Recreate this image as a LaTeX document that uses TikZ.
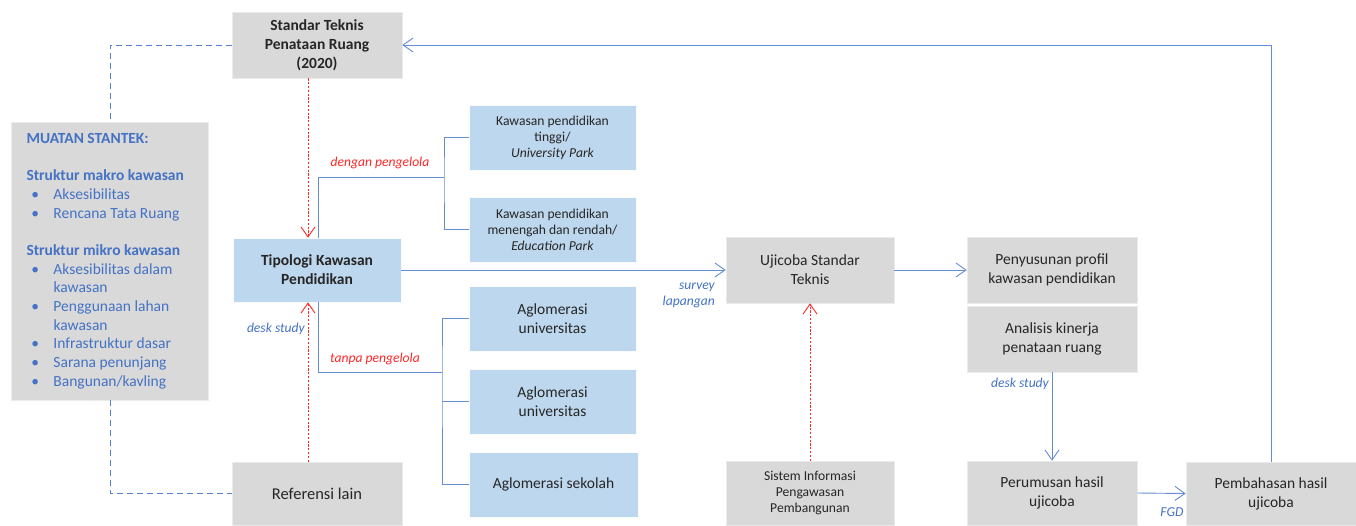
\documentclass[tikz,border=0pt]{standalone}
\usepackage{fontspec}
\setmainfont{Carlito}
\usetikzlibrary{arrows.meta}
\definecolor{boxgray}{RGB}{217,217,217}
\definecolor{boxblue}{RGB}{189,215,238}
\definecolor{lineblue}{RGB}{100,140,215}
\definecolor{dashblue}{RGB}{85,128,212}
\definecolor{txtblue}{RGB}{68,114,196}
\definecolor{redline}{RGB}{255,40,40}
\newcommand{\bigtxt}{\fontsize{15.5}{19}\selectfont}
\newcommand{\smalltxt}{\fontsize{13.6}{16}\selectfont}
\newcommand{\bul}{\makebox[27pt][l]{\hspace{5pt}•}}
\begin{document}
\begin{tikzpicture}[x=1pt,y=-1pt,
  graybox/.style={fill=boxgray,draw=white!92!black,line width=0.6pt,inner sep=2pt,align=center,font=\bigtxt,text=black!85},
  bluebox/.style={fill=boxblue,draw=white!90!boxblue,line width=0.6pt,inner sep=2pt,align=center,font=\bigtxt,text=black!85},
  conn/.style={draw=lineblue,line width=0.9pt},
  arr/.style={-{Straight Barb[length=10pt,width=14pt,line width=0.9pt]}},
  reddot/.style={draw=redline,line width=0.9pt,dash pattern=on 2.2pt off 1.6pt},
  redarr/.style={-{Straight Barb[length=10pt,width=14pt,line width=0.9pt,sep=0pt]}},
  bluedash/.style={draw=dashblue,line width=1pt,dash pattern=on 6pt off 4pt},
  redlab/.style={font=\smalltxt\itshape,text=redline,inner sep=0pt},
  bluelab/.style={font=\smalltxt\itshape,text=txtblue,inner sep=0pt,align=right},
]
\useasboundingbox (0,0) rectangle (1356,525);
\fill[white] (0,0) rectangle (1356,525);

% nodes
\node[graybox,minimum width=170pt,minimum height=66pt,font=\bigtxt\bfseries] (std) at (317,45) {Standar Teknis\\Penataan Ruang\\(2020)};
\node[graybox,minimum width=197pt,minimum height=278pt,text width=167pt,align=flush left,text=txtblue,inner sep=0pt,font=\fontsize{15.5}{18.7}\selectfont] (m) at (110,261)
 {\textbf{MUATAN STANTEK:}\\
  \mbox{}\\
  \textbf{Struktur makro kawasan}\\
  \bul Aksesibilitas\\
  \bul Rencana Tata Ruang\\
  \mbox{}\\
  \textbf{Struktur mikro kawasan}\\
  \bul Aksesibilitas dalam\\
  \hspace*{27pt}kawasan\\
  \bul Penggunaan lahan\\
  \hspace*{27pt}kawasan\\
  \bul Infrastruktur dasar\\
  \bul Sarana penunjang\\
  \bul Bangunan/kavling};
\node[bluebox,minimum width=168pt,minimum height=64pt,font=\bigtxt\bfseries] (tip) at (317,270) {Tipologi Kawasan\\Pendidikan};
\node[graybox,minimum width=170pt,minimum height=63pt,font=\fontsize{16.5}{20}\selectfont] (ref) at (317,493.5) {Referensi lain};

\node[bluebox,minimum width=167pt,minimum height=65pt,font=\smalltxt] (k1) at (552.5,137.5) {Kawasan pendidikan\\tinggi/\\\textit{University Park}};
\node[bluebox,minimum width=167pt,minimum height=65pt,font=\smalltxt] (k2) at (552.5,229.5) {Kawasan pendidikan\\menengah dan rendah/\\\textit{Education Park}};
\node[bluebox,minimum width=167pt,minimum height=65pt] (a1) at (552.5,318.5) {Aglomerasi\\universitas};
\node[bluebox,minimum width=167pt,minimum height=65pt] (a2) at (552.5,401.5) {Aglomerasi\\universitas};
\node[bluebox,minimum width=169pt,minimum height=65pt] (a3) at (553.5,484.5) {Aglomerasi sekolah};

\node[graybox,minimum width=168pt,minimum height=66pt] (uji) at (810,270) {Ujicoba Standar\\Teknis};
\node[graybox,minimum width=168pt,minimum height=64pt,font=\smalltxt] (sis) at (810,493) {Sistem Informasi\\Pengawasan\\Pembangunan};
\node[graybox,minimum width=170pt,minimum height=66pt] (pen) at (1052,270) {Penyusunan profil\\kawasan pendidikan};
\node[graybox,minimum width=170pt,minimum height=66pt] (ana) at (1052,339) {Analisis kinerja\\penataan ruang};
\node[graybox,minimum width=170pt,minimum height=64pt] (per) at (1052,493) {Perumusan hasil\\ujicoba};
\node[graybox,minimum width=170pt,minimum height=63pt] (pem) at (1271,493.5) {Pembahasan hasil\\ujicoba};

% coordinates for brackets
\coordinate (b1) at (444,177);
\coordinate (b2) at (442,372);

% dashed links of the content box
\draw[bluedash] (std.west) -| (m.north);
\draw[bluedash] (m.south) |- (ref.west);

% red dotted arrows
\draw[reddot,redarr] ([xshift=-9pt]std.south) -- ([xshift=-9pt]tip.north);
\draw[reddot,redarr] ([xshift=-9pt]ref.north) -- ([xshift=-9pt]tip.south);
\draw[reddot,redarr] (sis.north) -- (uji.south);

% brackets
\draw[conn] ([xshift=1pt]tip.north) |- (b1);
\draw[conn] (k1.west) -| (b1) |- (k2.west);
\draw[conn] ([xshift=1pt]tip.south) |- (b2);
\draw[conn] (a1.west) -| (b2) |- (a3.west);
\draw[conn] (a2.west) -- (a2.west -| b2);

% flow arrows
\draw[conn,arr] (tip.east) -- (uji.west);
\draw[conn,arr] (uji.east) -- (pen.west);
\draw[conn,arr] (ana.south) -- (per.north);
\draw[conn,arr] (per.east) -- (pem.west);
\draw[conn,arr] (pem.north) |- (std.east);

% labels
\node[redlab] (l1) at (380,163) {dengan pengelola};
\node[redlab] (l2) at (375,359) {tanpa pengelola};
\node[bluelab,anchor=east] (l3) at (305,329) {desk study};
\node[bluelab,anchor=east] (l4) at (715,295) {survey\\lapangan};
\node[bluelab,anchor=east] (l5) at (1049,384) {desk study};
\node[bluelab] (l6) at (1172,512) {FGD};
\end{tikzpicture}
\end{document}
